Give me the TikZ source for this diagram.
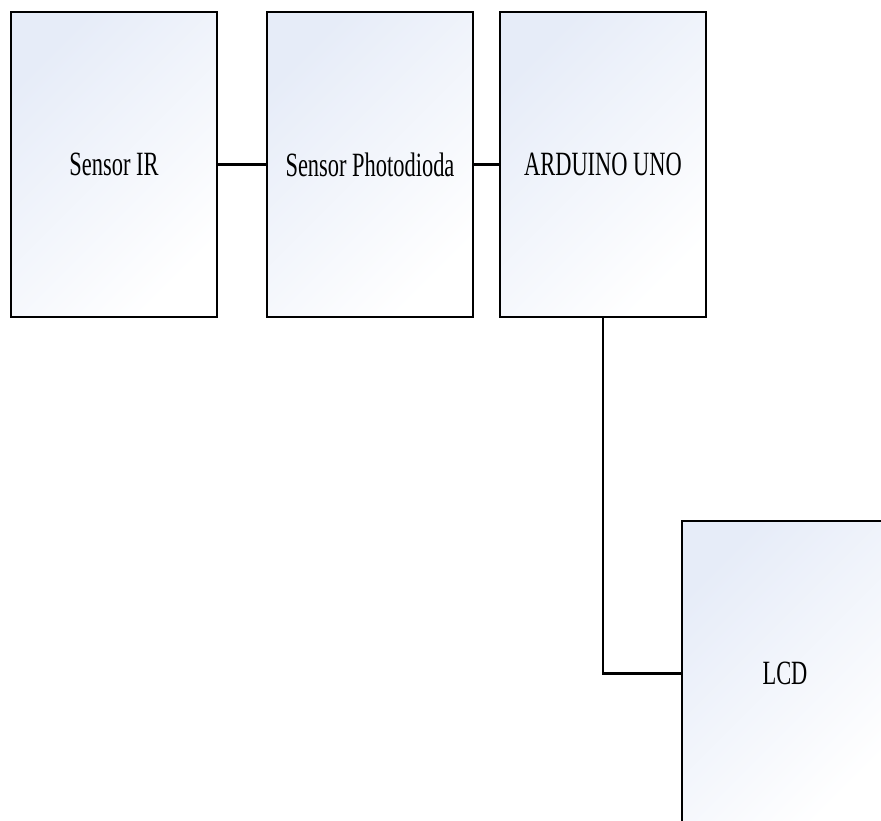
\documentclass[tikz,border=0pt]{standalone}
\usepackage{fontspec}
\newfontfamily\boxfont[FakeStretch=0.66]{Liberation Serif}
\usetikzlibrary{positioning}
\definecolor{boxblue}{RGB}{230,236,248}

\begin{document}
\begin{tikzpicture}[
        x=1pt, y=1pt,
        node distance=50pt,
        block/.style={rectangle, minimum width=206pt, minimum height=305pt, inner sep=0pt, outer sep=0pt, text centered, draw=black, line width=1.5pt, top color=boxblue, middle color=white, bottom color=white, shading angle=45, font=\boxfont\fontsize{34}{36}\selectfont,
            append after command={[line width=3pt] (\tikzlastnode.north west) edge (\tikzlastnode.north east) (\tikzlastnode.south west) edge (\tikzlastnode.south east)}},
        wire/.style={draw=black, line width=3.5pt}
        ]

        \useasboundingbox (0,0) rectangle (881,-820);
        \clip (0,0) rectangle (881,-820);

        \node (ir)      [block, anchor=north west] at (11,-12) {Sensor IR};
        \node (photo)   [block, right=of ir]                     {Sensor Photodioda};
        \node (arduino) [block, right=27pt of photo]             {ARDUINO UNO};
        \node (lcd)     [block, anchor=north west] at (682,-521) {LCD};

        \draw [wire] (ir) -- (photo);
        \draw [wire] (photo) -- (arduino);
        \draw [wire, line width=2.5pt] (arduino.south) |- (lcd.west);

    \end{tikzpicture}
\end{document}
